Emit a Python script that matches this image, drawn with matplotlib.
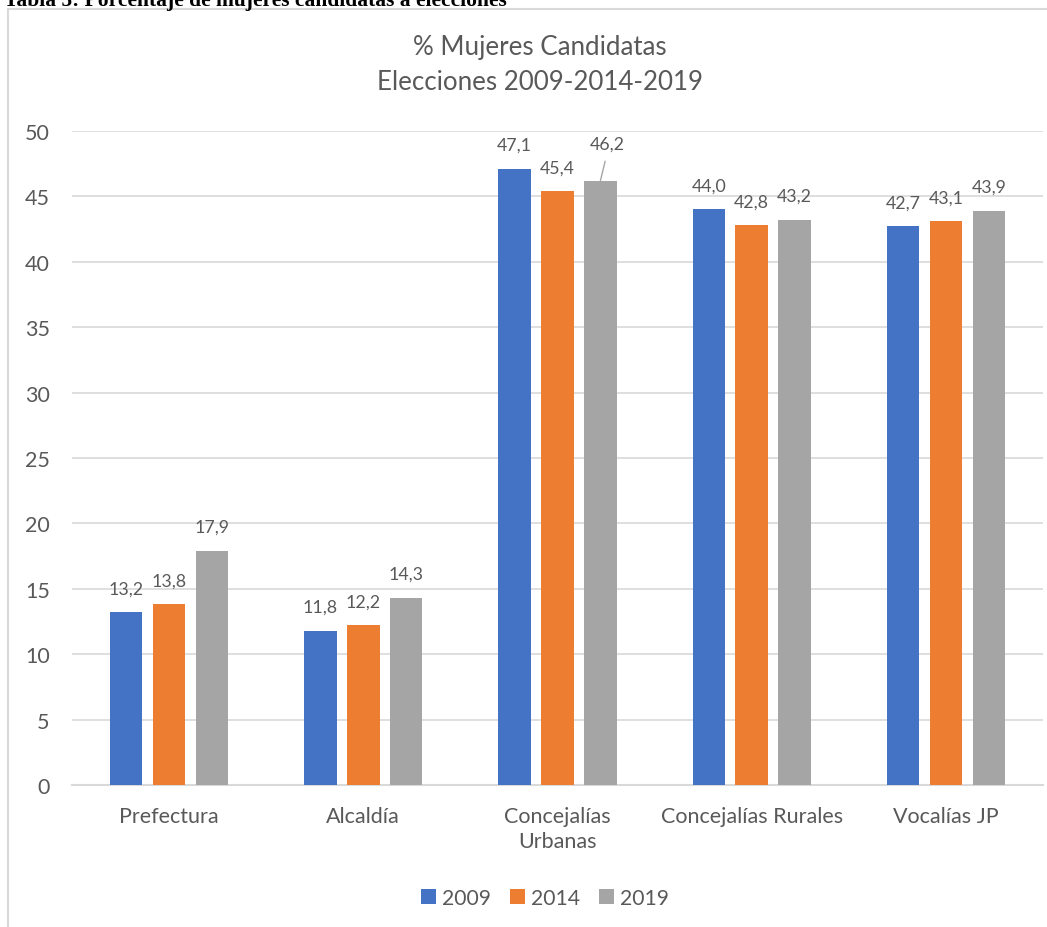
import matplotlib
matplotlib.use('Agg')
import matplotlib.pyplot as plt
import numpy as np
from matplotlib.patches import Rectangle

categories = ['Prefectura', 'Alcaldía', 'Concejalías\nUrbanas', 'Concejalías Rurales', 'Vocalías JP']
years = ['2009', '2014', '2019']
v2009 = [13.2, 11.8, 47.1, 44.0, 42.7]
v2014 = [13.8, 12.2, 45.4, 42.8, 43.1]
v2019 = [17.9, 14.3, 46.2, 43.2, 43.9]
colors = ['#4472C4', '#ED7D31', '#A5A5A5']

plt.rcParams['font.family'] = ['Lato', 'DejaVu Sans']
txt = '#595959'

fig = plt.figure(figsize=(10.47, 9.28), dpi=100)
# chart area border
fig.patches.append(Rectangle((8 / 1047, -0.01), 1.0, 1 - 10 / 928 + 0.01, transform=fig.transFigure,
                             fill=False, edgecolor='#d9d9d9', linewidth=1.5))
fig.text(0.004, 1 - 1 / 928, 'Tabla 5: Porcentaje de mujeres candidatas a elecciones',
         family='Liberation Serif', weight='bold', fontsize=15.5, va='center', ha='left', color='black')

ax = fig.add_axes([72 / 1047, 1 - 786 / 928, 971 / 1047, 654 / 928])
x = np.arange(len(categories))
w = 0.167
step = 0.221
series = [v2009, v2014, v2019]
for i, (vals, c, yr) in enumerate(zip(series, colors, years)):
    pos = x + (i - 1) * step
    ax.bar(pos, vals, width=w, color=c, label=yr, zorder=3)
    for j, (p, v) in enumerate(zip(pos, vals)):
        lbl = f'{v:.1f}'.replace('.', ',')
        if yr == '2019' and j == 2:
            ax.annotate(lbl, (p, v), xytext=(7, 37), textcoords='offset pixels', ha='center', va='center',
                        fontsize=12.8, color=txt,
                        arrowprops=dict(arrowstyle='-', color='#a6a6a6', lw=1, shrinkA=5, shrinkB=0,
                                        relpos=(0.5, 0)))
        else:
            ax.annotate(lbl, (p, v), xytext=(0, 24), textcoords='offset pixels', ha='center', va='center',
                        fontsize=12.8, color=txt)

ax.set_xlim(-0.5, len(categories) - 0.5)
ax.set_ylim(0, 50)
ax.set_yticks(np.arange(0, 51, 5))
ax.set_xticks(x)
ax.set_xticklabels(categories, fontsize=15.5, color=txt, linespacing=1.3)
ax.tick_params(axis='y', labelsize=15.5, labelcolor=txt, length=0, pad=16)
ax.tick_params(axis='x', length=0, pad=15)
ax.yaxis.grid(True, color='#d9d9d9', linewidth=1.2, zorder=0)
for s in ['top', 'right', 'left']:
    ax.spines[s].set_visible(False)
ax.spines['bottom'].set_color('#d9d9d9')
ax.spines['bottom'].set_linewidth(1.5)

fig.text(540 / 1047, 1 - 65 / 928, '% Mujeres Candidatas\nElecciones 2009-2014-2019', ha='center', va='center',
         fontsize=18.6, color=txt, linespacing=1.5)

fig.legend(loc='center', bbox_to_anchor=(545 / 1047, 1 - 899 / 928), ncol=3, frameon=False,
           fontsize=15.2, labelcolor=txt, handlelength=0.7, handleheight=0.7, handletextpad=0.3, columnspacing=0.9)

fig.savefig('out.png', dpi=100)
